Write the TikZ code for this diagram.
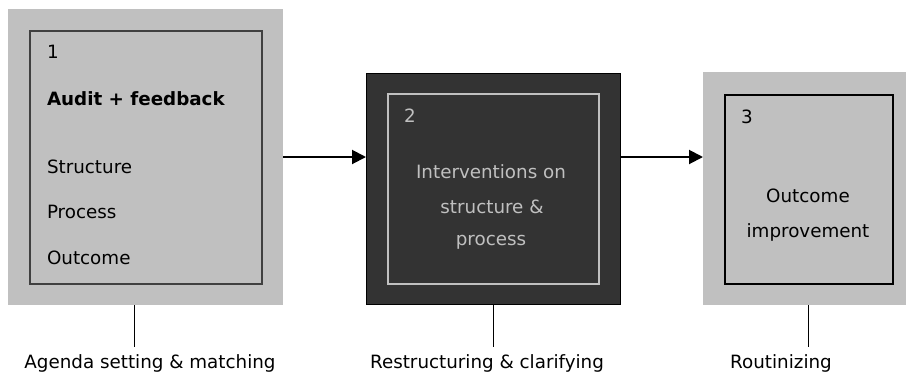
\documentclass[tikz,border=0pt]{standalone}
\usepackage{fontspec}
\setmainfont{DejaVu Sans}
\usetikzlibrary{arrows.meta}
\definecolor{boxgray}{HTML}{C0C0C0}
\definecolor{boxdark}{HTML}{333333}
\definecolor{rimdark}{HTML}{404040}
\begin{document}
\begin{tikzpicture}[x=1pt,y=-1pt,
  every node/.style={inner sep=0pt,outer sep=0pt},
  txt/.style={font=\fontsize{18.3}{22}\selectfont, anchor=base west},
  ctxt/.style={font=\fontsize{18.3}{22}\selectfont, anchor=base},
  graybox/.style={rectangle, fill=boxgray, draw=none},
  darkbox/.style={rectangle, fill=boxdark, draw=black, line width=0.8pt},
  rim/.style={rectangle, draw=rimdark, line width=1.5pt},
  lightrim/.style={rectangle, draw=boxgray, line width=1.2pt},
  blackrim/.style={rectangle, draw=black, line width=1.5pt},
  arr/.style={line width=2pt, -{Triangle[length=14pt,width=14pt]}},
  tick/.style={line width=1pt}]
\useasboundingbox (0,0) rectangle (906,373);
% box 1
\node[graybox, minimum width=275pt, minimum height=296pt] (b1) at (145.5,157) {};
\node[rim, minimum width=232pt, minimum height=253pt] (i1) at (146,157.5) {};
\node[txt] (n1) at (47,58) {1};
\node[txt, font=\fontsize{18.3}{22}\selectfont\bfseries] (t1a) at (47,105) {Audit + feedback};
\node[txt] (t1b) at (47,173) {Structure};
\node[txt] (t1c) at (47,218) {Process};
\node[txt] (t1d) at (47,264) {Outcome};
% box 2
\node[darkbox, minimum width=254pt, minimum height=231pt] (b2) at (493,188.5) {};
\node[lightrim, minimum width=211pt, minimum height=190pt] (i2) at (493.5,189) {};
\node[txt, text=boxgray] (n2) at (404,122) {2};
\node[ctxt, text=boxgray] (t2a) at (491,178) {Interventions on};
\node[ctxt, text=boxgray] (t2b) at (492,213) {structure \&};
\node[ctxt, text=boxgray] (t2c) at (491,245) {process};
% box 3
\node[graybox, minimum width=203pt, minimum height=233pt] (b3) at (804.5,188.5) {};
\node[blackrim, minimum width=168pt, minimum height=189pt] (i3) at (809,189.5) {};
\node[txt] (n3) at (741,123) {3};
\node[ctxt] (t3a) at (808,202) {Outcome};
\node[ctxt] (t3b) at (808,237) {improvement};
% arrows
\draw[arr] (b1.east) -- (b1.east -| b2.west);
\draw[arr] (b2.east |- b1.east) -- (b1.east -| b3.west);
% ticks and labels
\coordinate (e1) at (134,347);
\coordinate (e2) at (493,347);
\coordinate (e3) at (808,347);
\draw[tick] (e1 |- b1.south) -- (e1);
\draw[tick] (e2 |- b2.south) -- (e2);
\draw[tick] (e3 |- b3.south) -- (e3);
\node[ctxt] (l1) at (150,368) {Agenda setting \& matching};
\node[ctxt] (l2) at (487,368) {Restructuring \& clarifying};
\node[ctxt] (l3) at (781,368) {Routinizing};
\end{tikzpicture}
\end{document}
